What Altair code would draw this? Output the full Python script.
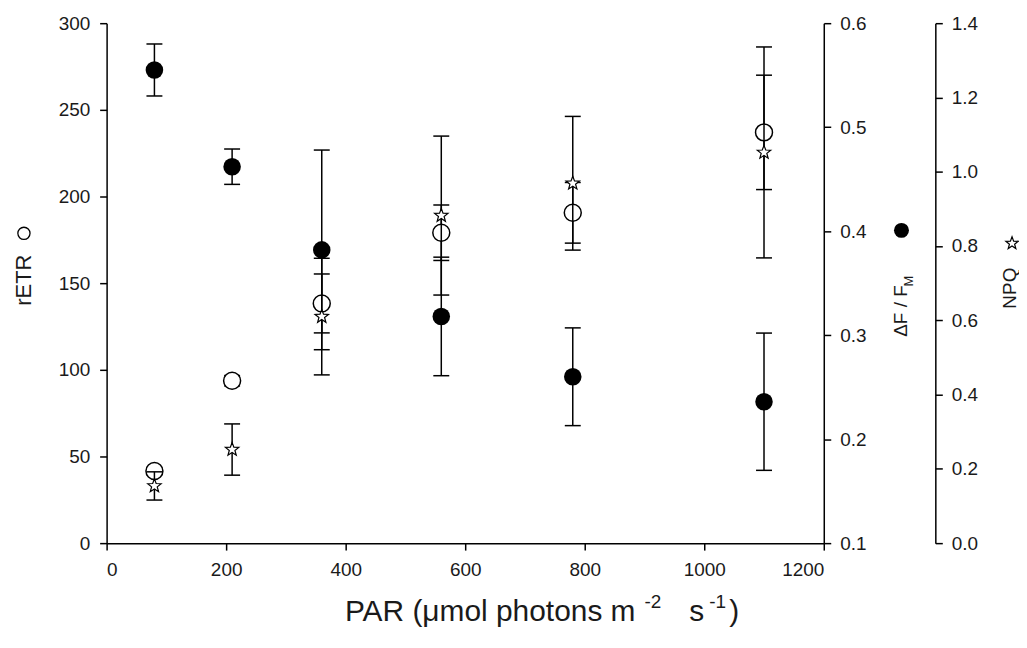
import altair as alt
import pandas as pd

# ---- data ----
par = [80, 210, 360, 560, 780, 1100]
retr = [41.6, 93.7, 138.3, 179.1, 190.6, 237.0]
retr_err = [2.0, 3.0, 17.0, 16.0, 17.5, 33.0]
yld = [0.555, 0.462, 0.382, 0.318, 0.260, 0.236]
yld_err = [0.025, 0.017, 0.096, 0.057, 0.047, 0.066]
npq = [0.154, 0.252, 0.610, 0.882, 0.969, 1.052]
npq_err = [0.038, 0.069, 0.157, 0.214, 0.180, 0.284]

x_ticks = [0, 200, 400, 600, 800, 1000, 1200]
retr_ticks = [0, 50, 100, 150, 200, 250, 300]
yld_ticks = [0.1, 0.2, 0.3, 0.4, 0.5, 0.6]
npq_ticks = [0.0, 0.2, 0.4, 0.6, 0.8, 1.0, 1.2, 1.4]

title_retr = "rETR"
title_yld = "ΔF / F"
title_yld_sub = "M"
title_npq = "NPQ"
x_title_main = "PAR (μmol photons m"
x_title_sup1 = "-2"
x_title_s = "s"
x_title_sup2 = "-1"
x_title_end = ")"

STAR = ("M0,-1L0.247,-0.34L0.951,-0.309L0.4,0.13L0.588,0.809L0,0.42"
        "L-0.588,0.809L-0.4,0.13L-0.951,-0.309L-0.247,-0.34Z")

FONT = "Liberation Sans"

X = alt.X("par:Q", scale=alt.Scale(domain=[0, 1200], nice=False),
          axis=alt.Axis(values=x_ticks, title=None, format="d", labelPadding=10))


def series(values, errs, domain, axis, point_props):
    df = pd.DataFrame({
        "par": par,
        "v": values,
        "lo": [v - e for v, e in zip(values, errs)],
        "hi": [v + e for v, e in zip(values, errs)],
    })
    sc = alt.Scale(domain=domain, nice=False, zero=False)
    base = alt.Chart(df)
    rule = base.mark_rule(color="black", strokeWidth=1.5).encode(
        x=X, y=alt.Y("lo:Q", scale=sc, axis=axis), y2="hi:Q")
    caps = base.transform_fold(["lo", "hi"], as_=["k", "cap"]).mark_tick(
        orient="horizontal", size=16, thickness=1.5, color="black", opacity=1
    ).encode(x=X, y=alt.Y("cap:Q", scale=sc, axis=axis))
    pts = base.mark_point(opacity=1, **point_props).encode(
        x=X, y=alt.Y("v:Q", scale=sc, axis=axis))
    return alt.layer(rule, caps, pts)


retr_layer = series(
    retr, retr_err, [0, 300],
    alt.Axis(values=retr_ticks, title=None, orient="left", labelPadding=10),
    dict(shape="circle", filled=True, fill="white", stroke="black",
         strokeWidth=1.5, size=290))
yld_layer = series(
    yld, yld_err, [0.1, 0.6],
    alt.Axis(values=yld_ticks, title=None, orient="right", format=".1f",
             labelPadding=9),
    dict(shape="circle", filled=True, color="black", size=310))
npq_layer = series(
    npq, npq_err, [0.0, 1.4],
    alt.Axis(values=npq_ticks, title=None, orient="right", format=".1f",
             offset=112, labelPadding=9),
    dict(shape=STAR, filled=True, fill="white", stroke="black",
         strokeWidth=1.2, size=200))


def label(txt, x, y, size, angle=0, align="center", baseline="middle"):
    return alt.Chart(pd.DataFrame({"t": [txt]})).mark_text(
        font=FONT, fontSize=size, color="#1a1a1a", angle=angle,
        align=align, baseline=baseline
    ).encode(x=alt.value(x), y=alt.value(y), text="t:N")


def symbol(x, y, props):
    return alt.Chart(pd.DataFrame({"t": ["s"]})).mark_point(
        opacity=1, **props).encode(x=alt.value(x), y=alt.value(y))


texts = [
    label(title_retr, -83, 258, 22, angle=270),
    symbol(-83, 211, dict(shape="circle", filled=True, fill="white",
                          stroke="black", strokeWidth=1.3, size=150)),
    label(title_yld, 798, 289, 19, angle=270),
    label(title_yld_sub, 806, 259, 13, angle=270),
    symbol(798, 208, dict(shape="circle", filled=True, color="black", size=225)),
    label(title_npq, 907, 266, 19, angle=270),
    symbol(909, 221, dict(shape=STAR, filled=True, fill="white",
                          stroke="black", strokeWidth=1.2, size=170)),
    label(x_title_main, 531, 600, 30, align="right", baseline="alphabetic"),
    label(x_title_sup1, 540, 587, 19, align="left", baseline="alphabetic"),
    label(x_title_s, 585, 600, 30, align="left", baseline="alphabetic"),
    label(x_title_sup2, 605, 587, 19, align="left", baseline="alphabetic"),
    label(x_title_end, 625, 600, 30, align="left", baseline="alphabetic"),
]

chart = alt.layer(retr_layer, yld_layer, npq_layer, *texts).resolve_scale(
    y="independent"
).properties(
    width=720, height=522,
    autosize=alt.AutoSizeParams(type="none"),
    padding={"left": 99, "top": 14, "right": 196, "bottom": 96},
).configure_view(stroke=None).configure_axis(
    domainColor="black", domainWidth=1.5, tickColor="black", tickWidth=1.5,
    tickSize=7, grid=False, labelFont=FONT, labelFontSize=19,
    labelColor="#1a1a1a"
)

chart.save("out.html", embed_options={"renderer": "svg", "actions": False})
